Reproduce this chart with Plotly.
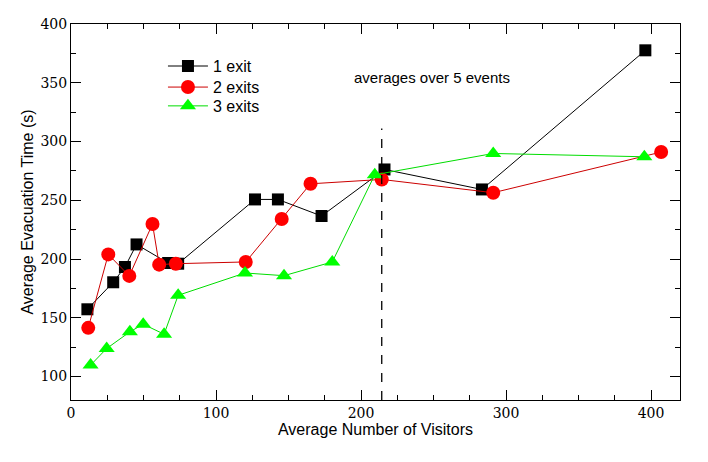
import plotly.graph_objects as go

# 1 exit
x1 = [11.3, 29.1, 37.2, 45.2, 67.0, 73.9, 126.9, 142.7, 172.8, 216.2, 283.4, 396.1]
y1 = [157.2, 180.2, 193.2, 212.4, 196.6, 196.0, 250.7, 250.7, 236.6, 276.2, 259.2, 377.6]
# 2 exits
x2 = [11.9, 25.7, 40.2, 56.2, 60.8, 72.3, 120.5, 145.3, 165.2, 214.3, 291.2, 407.0]
y2 = [141.4, 203.9, 185.6, 229.8, 195.2, 196.0, 197.5, 234.0, 264.0, 267.7, 256.4, 291.0]
# 3 exits
x3 = [13.5, 24.6, 40.6, 49.8, 64.2, 73.9, 120.0, 146.9, 180.2, 209.5, 291.2, 395.4]
y3 = [109.7, 123.8, 138.0, 144.5, 136.0, 169.1, 188.1, 185.8, 197.5, 271.7, 289.8, 287.0]

names = ["1 exit", "2 exits", "3 exits"]
dashed_x = 214.3
dashed_top = 311
note_text = "averages over 5 events"

SERIF = "DejaVu Serif"
SANS = "Liberation Sans, Arial, sans-serif"

fig = go.Figure()
fig.add_trace(go.Scatter(x=x1, y=y1, name=names[0], mode="lines+markers", legend="legend",
                         line=dict(color="black", width=1),
                         marker=dict(symbol="square", size=12, color="black")))
fig.add_trace(go.Scatter(x=x2, y=y2, name=names[1], mode="lines+markers", legend="legend2",
                         line=dict(color="#cc0000", width=1),
                         marker=dict(symbol="circle", size=14, color="#ff0000")))
fig.add_trace(go.Scatter(x=x3, y=y3, name=names[2], mode="lines+markers", legend="legend3",
                         line=dict(color="#00dd00", width=1),
                         marker=dict(symbol="triangle-up", size=14, color="#00ff00")))

fig.add_shape(type="line", x0=dashed_x, x1=dashed_x, y0=80, y1=dashed_top, opacity=1,
              line=dict(color="black", width=1.3, dash="dash"))
fig.add_annotation(x=249, y=354.5, text=note_text, showarrow=False,
                   font=dict(family=SANS, size=15, color="black"))


def axis(rng, dt, title, standoff):
    return dict(
        range=rng, tick0=0, dtick=dt,
        title=dict(text=title, standoff=standoff, font=dict(family=SANS, size=16, color="black")),
        showline=True, linecolor="black", linewidth=1, mirror="allticks",
        ticks="inside", ticklen=10, tickwidth=1, tickcolor="black",
        showgrid=False, zeroline=False, automargin=False,
        tickfont=dict(family=SERIF, size=14, color="black"),
        minor=dict(dtick=25, ticks="inside", ticklen=5, tickwidth=1, tickcolor="black", showgrid=False),
    )


def leg(y):
    return dict(x=0.151, y=y, xanchor="left", yanchor="middle", bgcolor="rgba(0,0,0,0)",
                itemwidth=40, font=dict(family=SANS, size=16, color="black"))


fig.update_layout(
    template="simple_white",
    width=708, height=462, plot_bgcolor="white", paper_bgcolor="white",
    margin=dict(l=71, r=28, t=24, b=62),
    xaxis=axis([0, 420], 100, "Average Number of Visitors", 4),
    yaxis=axis([80, 400], 50, "Average Evacuation Time (s)", 2),
    showlegend=True,
    legend=leg(0.888),
    legend2=leg(0.832),
    legend3=leg(0.782),
)

fig.write_html("out.html", config={"displayModeBar": False},
               post_script="document.body.style.margin='0px';")
